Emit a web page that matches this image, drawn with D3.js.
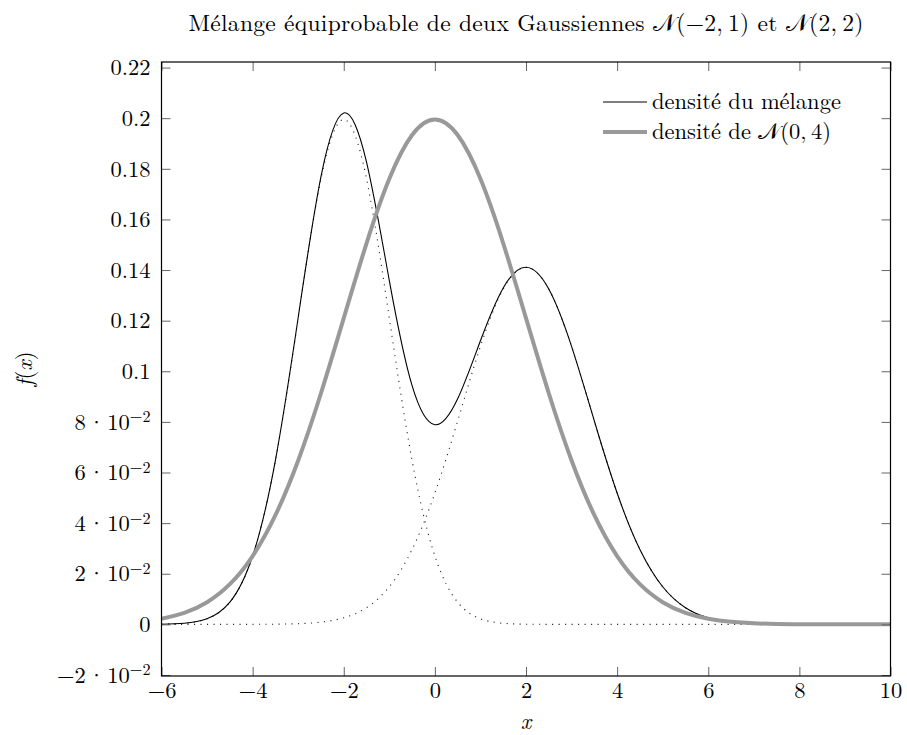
<!DOCTYPE html>
<html><head><meta charset="utf-8">
<script src="https://cdn.jsdelivr.net/npm/d3@7"></script>
</head>
<body style="margin:0;background:#fff"><svg id="c" width="907" height="735" font-family="Latin Modern Roman, Liberation Serif, serif"></svg>
<script>
const xs = [-6,-5.5,-5,-4.5,-4,-3.5,-3,-2.5,-2,-1.5,-1,-0.5,0,0.5,1,1.5,2,2.5,3,3.5,4,4.5,5,5.5,6,6.5,7,7.5,8,8.5,9,9.5,10];
const mixture = [0.000067,0.000436,0.002217,0.008768,0.027012,0.064832,0.121257,0.176926,0.202054,0.182630,0.135851,0.094324,0.078883,0.089130,0.112063,0.132937,0.141114,0.132509,0.109848,0.080366,0.051888,0.029565,0.014866,0.006597,0.002583,0.000893,0.000272,0.000073,0.000017,0.000004,0.000001,0,0];
const comp1 = [0.000067,0.000436,0.002216,0.008764,0.026995,0.064759,0.120985,0.176033,0.199471,0.176033,0.120985,0.064759,0.026995,0.008764,0.002216,0.000436,0.000067,0.000008,0.000001,0,0,0,0,0,0,0,0,0,0,0,0,0,0];
const comp2 = [0,0,0.000001,0.000004,0.000017,0.000073,0.000272,0.000893,0.002583,0.006597,0.014866,0.029565,0.051888,0.080366,0.109847,0.132501,0.141047,0.132501,0.109847,0.080366,0.051888,0.029565,0.014866,0.006597,0.002583,0.000893,0.000272,0.000073,0.000017,0.000004,0.000001,0,0];
const normal04 = [0.002216,0.004547,0.008764,0.015870,0.026995,0.043139,0.064759,0.091325,0.120985,0.150569,0.176033,0.193334,0.199471,0.193334,0.176033,0.150569,0.120985,0.091325,0.064759,0.043139,0.026995,0.015870,0.008764,0.004547,0.002216,0.001014,0.000436,0.000176,0.000067,0.000024,0.000008,0.000003,0.000001];

const xTicks = [-6,-4,-2,0,2,4,6,8,10];
const xTickLabels = ["−6","−4","−2","0","2","4","6","8","10"];
const yTicks = [-0.02,0,0.02,0.04,0.06,0.08,0.1,0.12,0.14,0.16,0.18,0.2,0.22];
// [mantissa, exponent] for scientific labels, or plain string
const yTickLabels = [["−2","−2"],"0",["2","−2"],["4","−2"],["6","−2"],["8","−2"],"0.1","0.12","0.14","0.16","0.18","0.2","0.22"];
const legendLabels = ["densité du mélange","densité de 𝒩(0,\u20094)"];
const titleText = "Mélange équiprobable de deux Gaussiennes 𝒩(−2,\u20091) et 𝒩(2,\u20092)";

const FONT = "Latin Modern Roman, Liberation Serif, serif";
const W = 907, H = 735;
const m = {left:161.5, right:16.5, top:62, bottom:59};
const svg = d3.select("#c");
const x = d3.scaleLinear().domain([-6,10]).range([m.left, W-m.right]);
const y = d3.scaleLinear().domain([-0.0204,0.2222]).range([H-m.bottom, m.top]);

svg.append("clipPath").attr("id","clip").append("rect")
  .attr("x",m.left).attr("y",m.top).attr("width",W-m.left-m.right).attr("height",H-m.top-m.bottom);

const line = d3.line().x((d,i)=>x(xs[i])).y(d=>y(d)).curve(d3.curveNatural);
const g = svg.append("g").attr("clip-path","url(#clip)");
[comp1, comp2].forEach(s=>{
  g.append("path").attr("d",line(s)).attr("fill","none").attr("stroke","#222")
   .attr("stroke-width",1.1).attr("stroke-dasharray","1.1 5.4");
});
g.append("path").attr("d",line(mixture)).attr("fill","none").attr("stroke","#000").attr("stroke-width",1.1);
g.append("path").attr("d",line(normal04)).attr("fill","none").attr("stroke","#999").attr("stroke-width",4);

// axes
const tickLen = 9;
const fs = 22.5;
const ax = svg.append("g").attr("transform",`translate(0,${H-m.bottom})`)
  .call(d3.axisBottom(x).tickValues(xTicks).tickSizeInner(-tickLen).tickSizeOuter(0).tickPadding(6).tickFormat((d,i)=>xTickLabels[i]));
const axT = svg.append("g").attr("transform",`translate(0,${m.top})`)
  .call(d3.axisTop(x).tickValues(xTicks).tickSizeInner(-tickLen).tickSizeOuter(0).tickFormat(""));
const ay = svg.append("g").attr("transform",`translate(${m.left},0)`)
  .call(d3.axisLeft(y).tickValues(yTicks).tickSizeInner(-tickLen).tickSizeOuter(0).tickPadding(11).tickFormat(""));
const ayR = svg.append("g").attr("transform",`translate(${W-m.right},0)`)
  .call(d3.axisRight(y).tickValues(yTicks).tickSizeInner(-tickLen).tickSizeOuter(0).tickFormat(""));
[ax,axT,ay,ayR].forEach(a=>{
  a.attr("font-family",FONT).attr("font-size",fs);
  a.select(".domain").remove();
  a.selectAll(".tick line").attr("stroke","#666").attr("stroke-width",1);
});
ax.selectAll(".tick text").attr("font-family",FONT).attr("font-size",fs).attr("fill","#000").attr("dy","0.71em");

// y labels with superscripts
ay.selectAll(".tick").each(function(d,i){
  const t = d3.select(this).select("text").attr("x",-11).attr("dy","0.32em")
    .attr("font-family",FONT).attr("font-size",fs).attr("fill","#000").attr("text-anchor","end");
  const lab = yTickLabels[i];
  t.text(null);
  if (typeof lab === "string") { t.text(lab); }
  else {
    t.append("tspan").text(lab[0]);
    t.append("tspan").attr("dx",2).text("·");
    t.append("tspan").attr("dx",2).text("10");
    t.append("tspan").attr("dy","-0.45em").attr("font-size",fs*0.72).text(lab[1]);
  }
});

// frame
svg.append("rect").attr("x",m.left).attr("y",m.top).attr("width",W-m.left-m.right).attr("height",H-m.top-m.bottom)
  .attr("fill","none").attr("stroke","#000").attr("stroke-width",1.2);

// axis labels
svg.append("text").attr("x",(m.left+W-m.right)/2).attr("y",728.5).attr("text-anchor","middle")
  .attr("font-family",FONT).attr("font-size",fs).attr("font-style","italic").text("x");
const yl = svg.append("text").attr("transform",`translate(32,${(m.top+H-m.bottom)/2}) rotate(-90)`).attr("text-anchor","middle")
  .attr("font-family",FONT).attr("font-size",fs);
yl.append("tspan").attr("font-style","italic").text("f");
yl.append("tspan").text("(");
yl.append("tspan").attr("font-style","italic").text("x");
yl.append("tspan").text(")");

// title
svg.append("text").attr("x",(m.left+W-m.right)/2).attr("y",31).attr("text-anchor","middle")
  .attr("font-family",FONT).attr("font-size",23.5).attr("textLength",675).attr("lengthAdjust","spacing").text(titleText);

// legend
const legendStyles = [{c:"#000",w:1.1},{c:"#999",w:4}];
const lg = svg.append("g");
legendLabels.forEach((lab,i)=>{
  const yy = 102 + i*30;
  lg.append("line").attr("x1",603).attr("x2",647).attr("y1",yy).attr("y2",yy)
    .attr("stroke",legendStyles[i].c).attr("stroke-width",legendStyles[i].w);
  lg.append("text").attr("x",652).attr("y",yy+7).attr("font-family",FONT).attr("font-size",fs).text(lab);
});
</script></body></html>
